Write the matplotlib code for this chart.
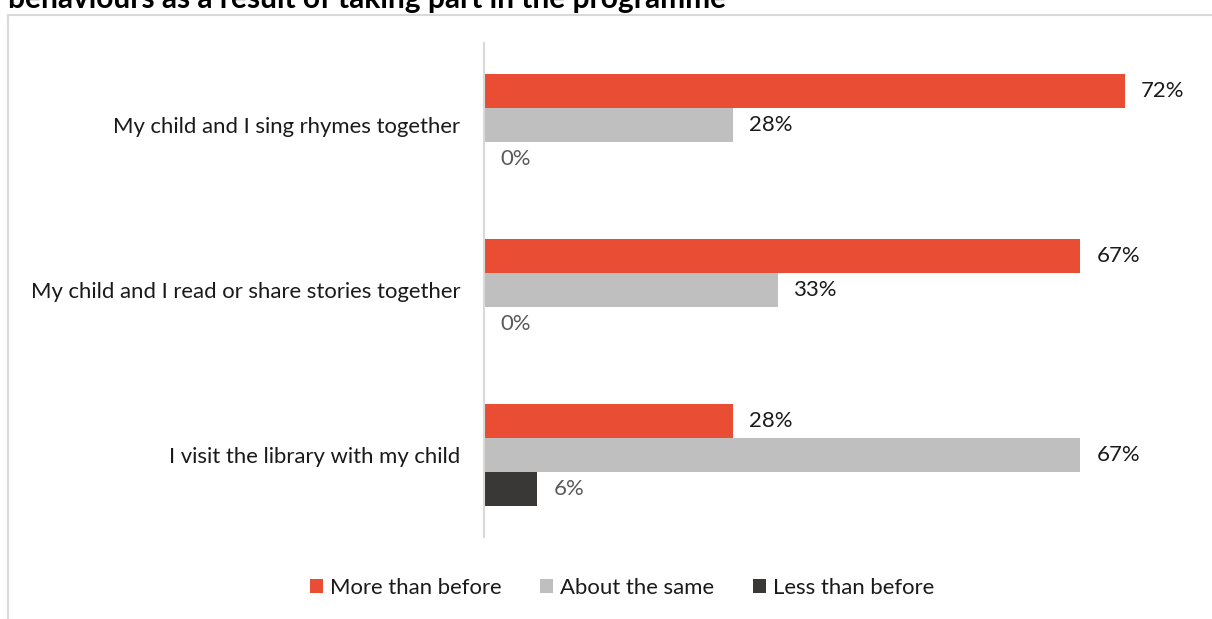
import matplotlib
matplotlib.use("Agg")
import matplotlib.pyplot as plt
from matplotlib.patches import Patch
from matplotlib.lines import Line2D

plt.rcParams['font.family'] = ['Lato', 'DejaVu Sans']

categories = [
    "My child and I sing rhymes together",
    "My child and I read or share stories together",
    "I visit the library with my child",
]
series_names = ["More than before", "About the same", "Less than before"]
more_than_before = [72, 67, 28]
about_the_same = [28, 33, 67]
less_than_before = [0, 0, 6]
title = "behaviours as a result of taking part in the programme"

colors = ["#E94E34", "#BFBFBF", "#3A3836"]
label_colors = ["#1a1a1a", "#1a1a1a", "#595959"]
FS = 15.9

W, H = 1212, 619
fig = plt.figure(figsize=(W / 100, H / 100), dpi=100)

# chart frame (light border, partially outside the canvas)
fig.add_artist(Line2D([8 / W, 8 / W], [0, 1 - 15 / H], color="#D9D9D9", lw=1.5,
                      transform=fig.transFigure))
fig.add_artist(Line2D([8 / W, 1], [1 - 15 / H, 1 - 15 / H], color="#D9D9D9", lw=1.5,
                      transform=fig.transFigure))

fig.text(8 / W, 1 - 8 / H, title, fontsize=21.5, fontweight="bold", color="#000000",
         ha="left", va="baseline")

ax = fig.add_axes([484 / W, 82 / H, 712 / W, 494 / H])
series = [more_than_before, about_the_same, less_than_before]
bar_h = 0.206
offsets = [-bar_h, 0, bar_h]
for vals, off, col, lcol, name in zip(series, offsets, colors, label_colors, series_names):
    ys = [i + off for i in range(len(categories))]
    ax.barh(ys, vals, height=bar_h, color=col, label=name)
    for y, v in zip(ys, vals):
        ax.annotate(f"{v}%", xy=(v, y), xytext=(11.5, 0), textcoords="offset points",
                    ha="left", va="center", fontsize=FS, color=lcol)

ax.set_xlim(0, 80)
ax.set_ylim(len(categories) - 0.5, -0.5)
ax.set_yticks(range(len(categories)))
ax.set_yticklabels(categories, fontsize=FS, color="#1a1a1a")
ax.tick_params(axis="y", length=0, pad=17)
ax.set_xticks([])
for s in ["top", "right", "bottom"]:
    ax.spines[s].set_visible(False)
ax.spines["left"].set_color("#D9D9D9")
ax.spines["left"].set_linewidth(1.5)

handles = [Patch(facecolor=c, edgecolor="none") for c in colors]
fig.legend(handles, series_names, loc="center", bbox_to_anchor=(622 / W, 1 - 588 / H),
           ncol=3, frameon=False, fontsize=FS, handlelength=0.6, handleheight=0.6,
           handletextpad=0.3, columnspacing=1.75, labelcolor="#1a1a1a")

fig.savefig("out.png", dpi=100)
